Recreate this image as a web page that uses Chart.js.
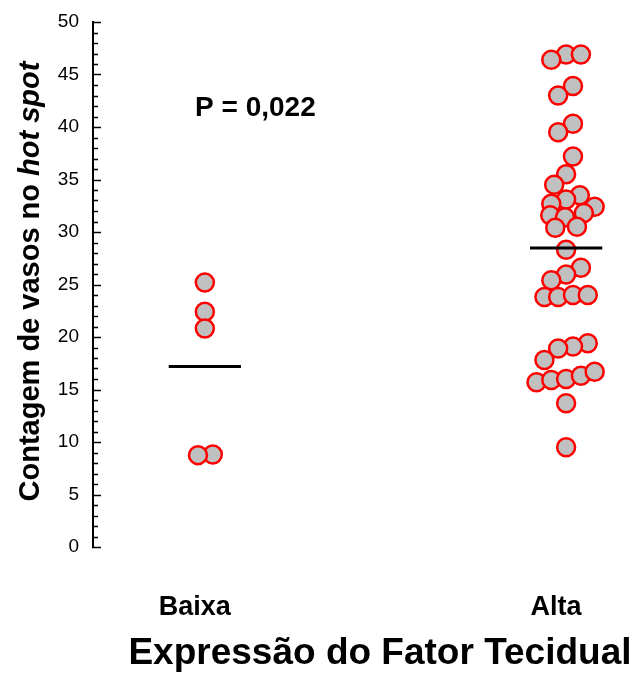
<!DOCTYPE html>
<html lang="pt">
<head>
    <meta charset="UTF-8">
    <title>Contagem de vasos no hot spot</title>
    <style>
        body { margin: 0; padding: 0; background: #fff; }
        #wrap { width: 643px; height: 674px; }
    </style>
    <script src="https://cdn.jsdelivr.net/npm/chart.js@4"></script>
</head>
<body>
    <div id="wrap"><canvas id="vasosChart" width="643" height="674"></canvas></div>
    <script>
        // values
        const categories = ['Baixa', 'Alta'];
        const baixaValues = [25.2, 22.4, 20.8, 8.8, 8.75];
        const baixaSpread = [0, 0, 0, 0.022, -0.019];
        const altaValues = [46.9, 46.9, 46.4, 43.9, 43.0, 40.3, 39.5, 37.2, 35.5, 34.5,
                            33.5, 33.1, 32.7, 32.4, 31.6, 31.4, 31.8, 30.4, 30.5, 28.3,
                            26.6, 25.95, 25.4, 23.8, 23.8, 24.0, 24.0, 19.4, 19.1, 18.9,
                            17.8, 15.7, 15.9, 16.0, 16.3, 16.7, 13.7, 9.5];
        const altaSpread = [0, 0.041, -0.041, 0.019, -0.022, 0.019, -0.022, 0.019, 0, -0.033,
                            0.038, 0, -0.041, 0.079, -0.044, -0.003, 0.049, -0.030, 0.030, 0,
                            0.041, 0, -0.041, -0.060, -0.022, 0.019, 0.060, 0.060, 0.019, -0.022,
                            -0.060, -0.082, -0.041, 0, 0.041, 0.079, 0, 0];
        const yTickValues = [0, 5, 10, 15, 20, 25, 30, 35, 40, 45, 50];
        const pLabel = 'P = 0,022';

        const FONT = "'Liberation Sans', Arial, sans-serif";

        function mean(arr) {
            return arr.reduce((a, b) => a + b, 0) / arr.length;
        }
        function toPoints(pos, values, spread) {
            return values.map((v, i) => ({ x: pos + spread[i], y: v }));
        }
        function meanLine(pos, values) {
            const m = mean(values);
            return [{ x: pos - 0.1, y: m }, { x: pos + 0.1, y: m }];
        }

        const pointStyle = {
            pointRadius: 9,
            pointHoverRadius: 9,
            pointBackgroundColor: '#c0c0c0',
            pointBorderColor: '#ff0000',
            pointBorderWidth: 2.5,
            showLine: false
        };
        const lineStyle = {
            type: 'line',
            borderColor: '#000',
            borderWidth: 3,
            pointRadius: 0,
            fill: false
        };

        // minor + major ticks drawn inside the plot, y-axis title with italic part, P label
        const extras = {
            id: 'extras',
            afterDraw(chart) {
                const ctx = chart.ctx;
                const y = chart.scales.y;
                const x = chart.scales.x;
                const left = chart.chartArea.left;
                ctx.save();
                ctx.strokeStyle = '#000';
                ctx.lineWidth = 1.5;
                for (let v = 0; v <= 50; v++) {
                    const py = Math.round(y.getPixelForValue(v)) + 0.5;
                    const len = v % 5 === 0 ? 8 : 5;
                    ctx.beginPath();
                    ctx.moveTo(left - 1, py);
                    ctx.lineTo(left + len, py);
                    ctx.stroke();
                }

                // y title
                const part1 = 'Contagem de vasos no ';
                const part2 = 'hot spot';
                const f1 = 'bold 29px ' + FONT;
                const f2 = 'italic bold 29px ' + FONT;
                ctx.font = f1;
                const w1 = ctx.measureText(part1).width;
                ctx.font = f2;
                const w2 = ctx.measureText(part2).width;
                ctx.translate(31, (chart.chartArea.top + chart.chartArea.bottom) / 2 - 3);
                ctx.rotate(-Math.PI / 2);
                ctx.fillStyle = '#000';
                ctx.textBaseline = 'middle';
                ctx.textAlign = 'left';
                ctx.font = f1;
                ctx.fillText(part1, -(w1 + w2) / 2, 0);
                ctx.font = f2;
                ctx.fillText(part2, -(w1 + w2) / 2 + w1, 0);
                ctx.restore();

                // p value
                ctx.save();
                ctx.font = 'bold 28px ' + FONT;
                ctx.fillStyle = '#000';
                ctx.textAlign = 'center';
                ctx.textBaseline = 'middle';
                ctx.fillText(pLabel, x.getPixelForValue(1.14), y.getPixelForValue(41.8));
                ctx.restore();
            }
        };

        const config = {
            type: 'scatter',
            data: {
                datasets: [
                    Object.assign({ label: 'Média Baixa', data: meanLine(1, baixaValues) }, lineStyle),
                    Object.assign({ label: 'Média Alta', data: meanLine(2, altaValues) }, lineStyle),
                    Object.assign({ label: categories[0], data: toPoints(1, baixaValues, baixaSpread) }, pointStyle),
                    Object.assign({ label: categories[1], data: toPoints(2, altaValues, altaSpread) }, pointStyle)
                ]
            },
            options: {
                responsive: false,
                animation: false,
                devicePixelRatio: 1,
                layout: { padding: { top: 22, right: 6, bottom: 0, left: 0 } },
                plugins: {
                    legend: { display: false },
                    tooltip: { enabled: false }
                },
                scales: {
                    x: {
                        type: 'linear',
                        min: 0.6904,
                        max: 2.181,
                        grid: { display: false, drawTicks: false },
                        border: { display: false },
                        afterBuildTicks: scale => {
                            scale.ticks = categories.map((c, i) => ({ value: i + 1 }));
                        },
                        afterFit: scale => {
                            scale.height = 127;
                            scale.paddingLeft = 0;
                            scale.paddingRight = 0;
                        },
                        ticks: {
                            padding: 44,
                            labelOffset: -10,
                            color: '#000',
                            font: { family: FONT, size: 27, weight: 'bold' },
                            callback: value => categories[value - 1] || ''
                        },
                        title: {
                            display: true,
                            text: 'Expressão do Fator Tecidual',
                            align: 'end',
                            color: '#000',
                            padding: { top: 0, bottom: 0 },
                            font: { family: FONT, size: 37, weight: 'bold', lineHeight: 1.1 }
                        }
                    },
                    y: {
                        min: 0,
                        max: 50,
                        grid: { display: false, drawTicks: false },
                        border: { display: true, color: '#000', width: 2 },
                        afterBuildTicks: scale => {
                            scale.ticks = yTickValues.map(v => ({ value: v }));
                        },
                        afterFit: scale => {
                            scale.width = 93;
                            scale.paddingTop = 0;
                            scale.paddingBottom = 0;
                        },
                        ticks: {
                            padding: 14,
                            color: '#000',
                            font: { family: FONT, size: 19 }
                        }
                    }
                }
            },
            plugins: [extras]
        };

        const vasosChart = new Chart(document.getElementById('vasosChart'), config);
    </script>
</body>
</html>
